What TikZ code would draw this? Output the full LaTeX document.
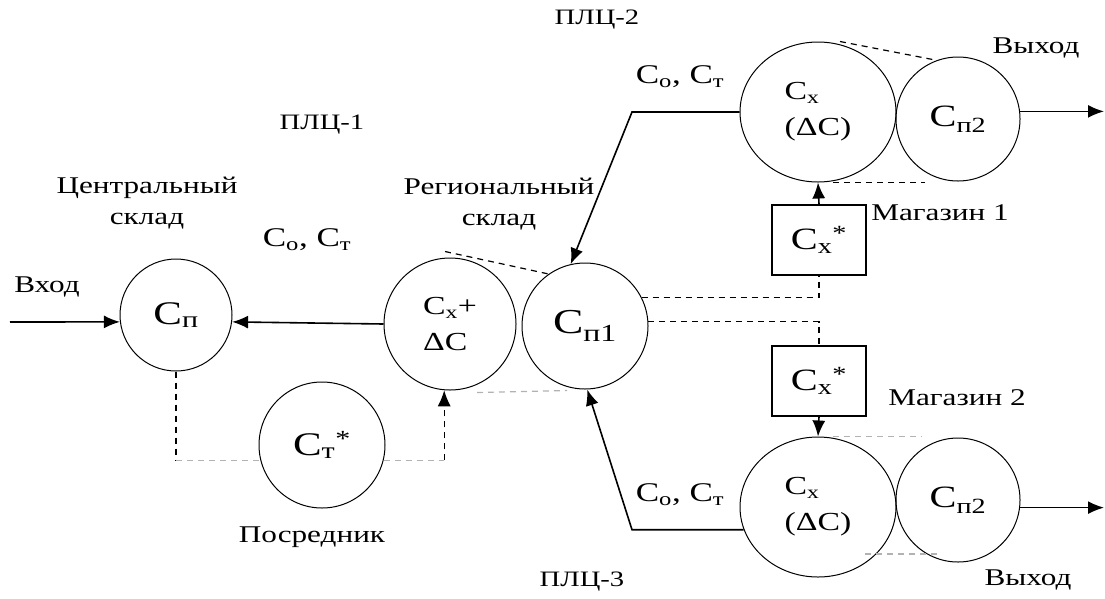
\documentclass[tikz,border=0pt]{standalone}
\usepackage{fontspec}
\setmainfont{Liberation Serif}[FakeStretch=1.3]
\usetikzlibrary{arrows.meta,shapes.geometric,calc}
\newcommand{\fsz}[2]{\fontsize{#1}{#2}\selectfont}
\tikzset{
  every node/.style={inner sep=0pt},
  unit/.style={draw, circle, line width=1pt},
  store/.style={draw, ellipse, line width=1pt, minimum width=156pt, minimum height=140pt},
  shop/.style={draw, rectangle, line width=1.4pt, minimum width=94pt, minimum height=70pt},
  flow/.style={line width=1.6pt, -{Latex[length=16pt,width=13pt]}},
  info/.style={line width=1.2pt, dash pattern=on 6pt off 5pt},
  lbl/.style={align=center, font=\fsz{24}{31}},
}
\begin{document}
\begin{tikzpicture}[x=1pt,y=-1pt]
  \useasboundingbox (0,0) rectangle (1105,598);
  % warehouses and shops
  \node[unit, minimum size=112pt, font=\fsz{33}{33}] (cp) at (176,315) {C\textsubscript{п}};
  \node[unit, minimum size=132pt, font=\fsz{26}{36}, align=left] (cx) at (450,324) {C\textsubscript{x}+\\ΔC};
  \node[unit, minimum size=126pt, font=\fsz{35}{35}] (cp1) at (585,326) {C\textsubscript{п1}};
  \node[unit, minimum size=126pt, font=\fsz{33}{33}] (ct) at (322,445) {C\textsubscript{т}\textsuperscript{*}};
  \node[store, font=\fsz{26}{36}, align=left] (sx2) at (818,112) {C\textsubscript{x}\\(ΔC)};
  \node[unit, minimum size=124pt, font=\fsz{31}{31}] (cq2) at (958,119) {C\textsubscript{п2}};
  \node[store, font=\fsz{26}{36}, align=left] (sx3) at (818,507) {C\textsubscript{x}\\(ΔC)};
  \node[unit, minimum size=124pt, font=\fsz{31}{31}] (cq3) at (958,500) {C\textsubscript{п2}};
  \node[shop, font=\fsz{31}{31}] (m1) at (819,240) {C\textsubscript{x}\textsuperscript{*}};
  \node[shop, font=\fsz{31}{31}] (m2) at (819,381) {C\textsubscript{x}\textsuperscript{*}};
  % labels
  \node[lbl] (inl) at (47,287) {Вход};
  \node[lbl] (cent) at (147,203) {Центральный\\склад};
  \node[lbl, font=\fsz{27}{27}] (f1) at (307,240) {C\textsubscript{о}, C\textsubscript{т}};
  \node[lbl, font=\fsz{22}{22}] (plc1) at (322,125) {ПЛЦ-1};
  \node[lbl] (reg) at (499,204) {Региональный\\склад};
  \node[lbl, font=\fsz{22}{22}] (plc2) at (597,20) {ПЛЦ-2};
  \node[lbl, font=\fsz{27}{27}] (f2) at (680,77) {C\textsubscript{о}, C\textsubscript{т}};
  \node[lbl] (out2l) at (1036,48) {Выход};
  \node[lbl] (m1l) at (940,213) {Магазин 1};
  \node[lbl] (m2l) at (957,398) {Магазин 2};
  \node[lbl, font=\fsz{27}{27}] (f3) at (680,495) {C\textsubscript{о}, C\textsubscript{т}};
  \node[lbl] (out3l) at (1028,580) {Выход};
  \node[lbl, font=\fsz{22}{22}] (plc3) at (582,582) {ПЛЦ-3};
  \node[lbl] (med) at (312,537) {Посредник};
  % material flows
  \coordinate (in) at (10,322);
  \coordinate (k2) at (632,112);
  \coordinate (k3) at (632,530);
  \coordinate (e2) at (1104,112);
  \coordinate (e3) at (1104,508);
  \draw[flow] (in) -- (cp.187);
  \draw[flow] (cx.west) -- (cp.-7);
  \draw[flow] (sx2.west) -- (k2) -- (cp1.103);
  \draw[flow] (sx3.197) -- (sx3.197 -| k3) -- (cp1.-88);
  \draw[flow] (cq2.7) -- (cq2.7 -| e2);
  \draw[flow] (cq3.-7) -- (cq3.-7 -| e3);
  \draw[flow] (m1.north) -- (sx2.south);
  \draw[flow] (m2.south) -- (sx3.north);
  % information links
  \draw[info] (cp1.27) -| (m1.south);
  \draw[info] (cp1.4) -| (m2.north);
  \draw[info] (cp.south) -- (cp.south |- ct.194);
  \draw[info, gray!60] (cp.south |- ct.194) -- (ct.194);
  \draw[info, gray!60] (ct.-14) -- (ct.-14 -| cx.-95);
  \draw[info, flow, line width=1.2pt] (ct.-14 -| cx.-95) -- (cx.-95);
  % contours of the regional and local warehouses
  \draw[info] ($(cx.north)+(-5,-6)$) -- (cp1.125);
  \draw[info, gray!60] ($(cx.south)+(27,2)$) -- ($(cp1.south)+(-18,1)$);
  \draw[info] ($(sx2.north)+(22,0)$) -- (cq2.110);
  \draw[info] ($(sx2.south)+(15,0)$) -- +(92,0);
  \draw[info, gray!60] ($(sx3.north)+(15,0)$) -- +(89,0);
  \draw[info, gray!60] ($(sx3.center)+(47,47)$) -- +(73,0);
\end{tikzpicture}
\end{document}
